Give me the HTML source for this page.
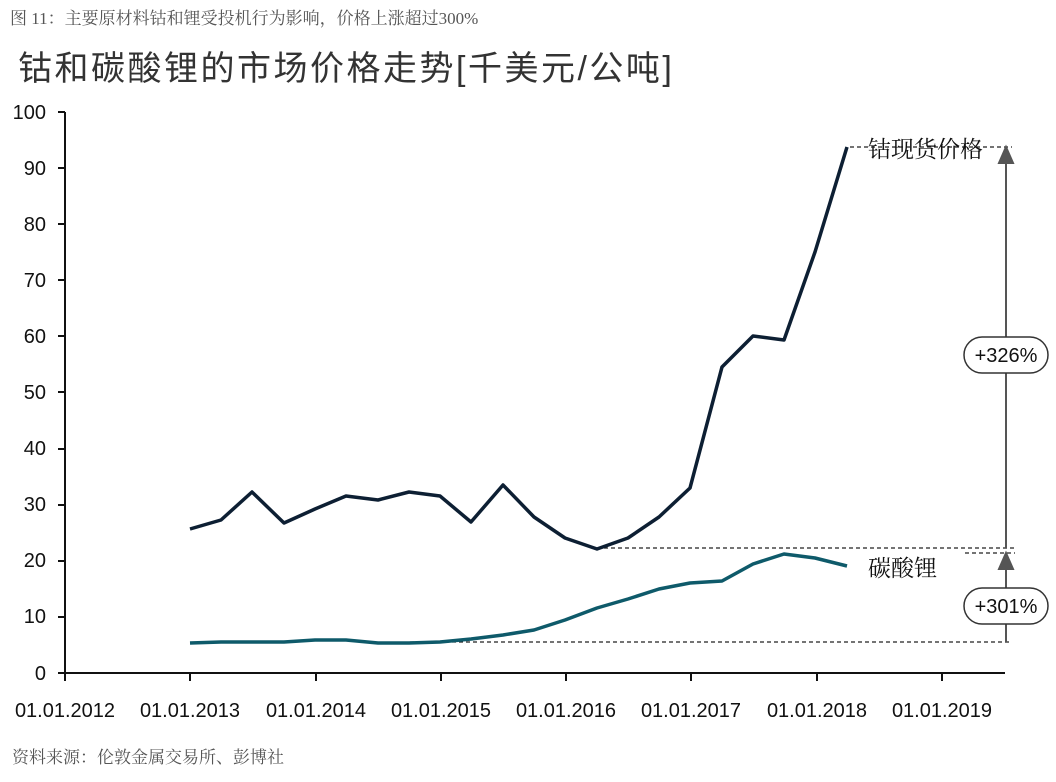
<!DOCTYPE html>
<html><head><meta charset="utf-8"><style>
body{margin:0;background:#fff;width:1056px;height:782px;overflow:hidden}
svg{display:block}
</style></head><body>
<svg width="1056" height="782" xmlns="http://www.w3.org/2000/svg">
<text x="10" y="24" font-family="Liberation Serif, Noto Serif CJK SC, serif" font-size="17" fill="#555">图 11：主要原材料钴和锂受投机行为影响，价格上涨超过300%</text>
<text x="18" y="80" font-family="Liberation Sans, Noto Sans CJK SC, sans-serif" font-size="34" fill="#333" letter-spacing="2.5">钴和碳酸锂的市场价格走势[千美元/公吨]</text>
<g font-family="Liberation Sans, sans-serif" font-size="20" fill="#111" text-anchor="end">
<text x="46" y="119">100</text><text x="46" y="175">90</text><text x="46" y="231">80</text><text x="46" y="287">70</text><text x="46" y="343">60</text><text x="46" y="399">50</text><text x="46" y="455">40</text><text x="46" y="511">30</text><text x="46" y="567">20</text><text x="46" y="623">10</text><text x="46" y="680">0</text>
</g>
<g stroke="#111" stroke-width="2">
<line x1="65" y1="112" x2="65" y2="674"/>
<line x1="64" y1="673" x2="1005" y2="673"/>
<line x1="58" y1="112" x2="65" y2="112"/><line x1="58" y1="168" x2="65" y2="168"/><line x1="58" y1="224" x2="65" y2="224"/><line x1="58" y1="280" x2="65" y2="280"/><line x1="58" y1="336" x2="65" y2="336"/><line x1="58" y1="392" x2="65" y2="392"/><line x1="58" y1="449" x2="65" y2="449"/><line x1="58" y1="505" x2="65" y2="505"/><line x1="58" y1="561" x2="65" y2="561"/><line x1="58" y1="617" x2="65" y2="617"/><line x1="58" y1="673" x2="65" y2="673"/>
<line x1="65" y1="673" x2="65" y2="681"/><line x1="190" y1="673" x2="190" y2="681"/><line x1="316" y1="673" x2="316" y2="681"/><line x1="441" y1="673" x2="441" y2="681"/><line x1="566" y1="673" x2="566" y2="681"/><line x1="691" y1="673" x2="691" y2="681"/><line x1="817" y1="673" x2="817" y2="681"/><line x1="942" y1="673" x2="942" y2="681"/>
</g>
<g font-family="Liberation Sans, sans-serif" font-size="20" fill="#111" text-anchor="middle">
<text x="65" y="717">01.01.2012</text><text x="190" y="717">01.01.2013</text><text x="316" y="717">01.01.2014</text><text x="441" y="717">01.01.2015</text><text x="566" y="717">01.01.2016</text><text x="691" y="717">01.01.2017</text><text x="817" y="717">01.01.2018</text><text x="942" y="717">01.01.2019</text>
</g>
<g stroke="#222" stroke-width="1.2" stroke-dasharray="4,3" fill="none">
<line x1="850" y1="147" x2="1012" y2="147"/>
<line x1="597" y1="548" x2="1015" y2="548"/>
<line x1="965" y1="553" x2="1015" y2="553"/>
<line x1="410" y1="642" x2="1012" y2="642"/>
</g>
<polyline fill="none" stroke="#0d1f33" stroke-width="3.5" stroke-linejoin="round" points="190,529 221,520 252,492 284,523 315,509 346,496 378,500 409,492 440,496 471,522 503,485 534,517 565,538 597,549 628,538 659,517 690,488 722,367 753,336 784,340 815,252 847,147"/>
<polyline fill="none" stroke="#0e5a6a" stroke-width="3.5" stroke-linejoin="round" points="190,643 221,642 252,642 284,642 315,640 346,640 378,643 409,643 440,642 471,639 503,635 534,630 565,620 597,608 628,599 659,589 690,583 722,581 753,564 784,554 815,558 847,566"/>
<g font-family="Liberation Serif, Noto Serif CJK SC, serif" font-size="23" fill="#111">
<text x="868" y="157">钴现货价格</text>
<text x="868" y="576">碳酸锂</text>
</g>
<g stroke="#555" stroke-width="2" fill="#555">
<line x1="1006" y1="548" x2="1006" y2="160"/>
<polygon points="999,163 1013,163 1006,147"/>
<line x1="1006" y1="642" x2="1006" y2="566"/>
<polygon points="999,569 1013,569 1006,553"/>
</g>
<g font-family="Liberation Sans, sans-serif" font-size="20" fill="#111" text-anchor="middle">
<rect x="964" y="337" width="84" height="36" rx="18" fill="#fff" stroke="#333" stroke-width="1.5"/>
<text x="1006" y="362">+326%</text>
<rect x="964" y="588" width="84" height="36" rx="18" fill="#fff" stroke="#333" stroke-width="1.5"/>
<text x="1006" y="613">+301%</text>
</g>
<text x="12" y="763" font-family="Liberation Serif, Noto Serif CJK SC, serif" font-size="17" fill="#555">资料来源：伦敦金属交易所、彭博社</text>
</svg>
</body></html>
